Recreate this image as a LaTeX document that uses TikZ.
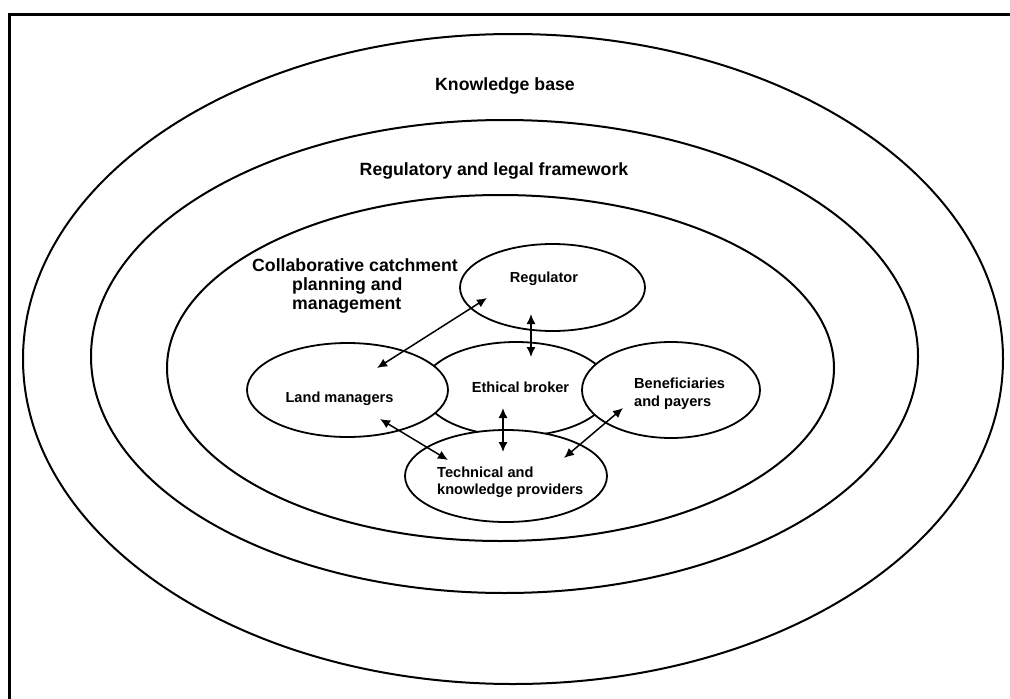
\documentclass[tikz,border=0pt]{standalone}
\usepackage{fontspec}
\setmainfont{Liberation Sans}
\usetikzlibrary{shapes.geometric,arrows.meta,calc}

\begin{document}
\begin{tikzpicture}[x=1pt,y=-1pt,
  ring/.style={draw,ellipse,line width=2pt,inner sep=0pt},
  actor/.style={draw,ellipse,line width=1.8pt,fill=white,inner sep=0pt},
  bigtext/.style={font=\bfseries\fontsize{17.7}{19}\selectfont,inner sep=0pt},
  smalltext/.style={font=\bfseries\fontsize{14.6}{17.3}\selectfont,inner sep=0pt},
  link/.style={line width=1.5pt,{Latex[length=10pt,width=9pt]}-{Latex[length=10pt,width=9pt]}}
]
\useasboundingbox (0,0) rectangle (1010,699);

% page frame (open at right and bottom)
\draw[line width=2.5pt,line join=miter] (9.5,699) -- (9.5,14.5) -- (1010,14.5);

% nested context rings
\node[ring,minimum width=980pt,minimum height=650pt] (kb)   at (513,359) {};
\node[ring,minimum width=827pt,minimum height=473pt] (rlf)  at (504.5,356.5) {};
\node[ring,minimum width=667pt,minimum height=346pt] (ccpm) at (500.5,368) {};

% ring labels (multi-line nodes sit on the baseline of their last line)
\node[bigtext,anchor=base] (kbt)  at (505,90)  {Knowledge base};
\node[bigtext,anchor=base] (rlft) at (494,175) {Regulatory and legal framework};
\node[bigtext,anchor=base west,align=left] (ccpmt) at (252,309.5)
  {Collaborative catchment\\\hspace*{40pt}planning and\\\hspace*{40pt}management};

% actors
\node[actor,minimum width=188pt,minimum height=94pt] (eth)  at (516,389) {};
\node[actor,minimum width=185pt,minimum height=87pt] (reg)  at (552.5,287.5) {};
\node[actor,minimum width=201pt,minimum height=94pt] (land) at (347.5,390) {};
\node[actor,minimum width=178pt,minimum height=96pt] (ben)  at (671,390) {};
\node[actor,minimum width=202pt,minimum height=92pt] (tech) at (506,476) {};

% actor labels
\node[smalltext,anchor=base] (regt)  at (544,282.3)   {Regulator};
\node[smalltext,anchor=base] (etht)  at (520.5,392.3) {Ethical broker};
\node[smalltext,anchor=base] (landt) at (339.5,402.7) {Land managers};
\node[smalltext,anchor=base west,align=left] (bent) at (634,406) {Beneficiaries\\and payers};
\node[smalltext,anchor=base west,align=left] (techt) at (437,494.6) {Technical and\\knowledge providers};

% two-way links
\draw[link] ($(reg)+(-65.5,10.5)$) -- ($(land)+(29.5,-22)$);
\draw[link] ($(reg)+(-21.5,26.5)$) -- ($(eth)+(15,-32)$);
\draw[link] ($(eth)+(-13,19)$) -- ($(tech)+(-3,-24)$);
\draw[link] ($(land)+(32.5,29)$) -- ($(tech)+(-58,-16)$);
\draw[link] ($(ben)+(-48,18)$) -- ($(tech)+(58,-18)$);
\end{tikzpicture}
\end{document}
